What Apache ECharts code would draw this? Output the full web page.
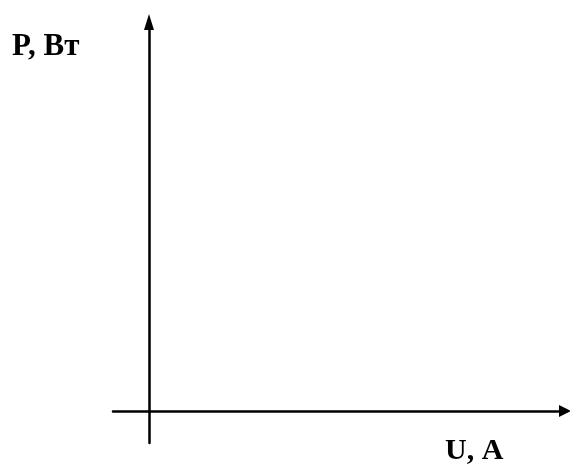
<!DOCTYPE html>
<html>
<head>
<meta charset="utf-8">
<script src="https://cdn.jsdelivr.net/npm/echarts@6/dist/echarts.min.js"></script>
<style>html,body{margin:0;padding:0;background:#fff}#c{width:570px;height:467px}</style>
</head>
<body>
<div id="c"></div>
<script>
// Empty coordinate system: axes only, no data
var xRange = [-36, 416];
var yRange = [-32, 389];
var yTitle = 'P, Вт';
var xTitle = 'U, A';
var seriesData = [];

var chart = echarts.init(document.getElementById('c'), null, {renderer: 'canvas'});
var axisLineStyle = {color: '#000', width: 2.5};
var titleStyle = {fontFamily: 'Liberation Serif', fontWeight: 'bold', fontSize: 30, fill: '#000'};
chart.setOption({
  backgroundColor: '#fff',
  animation: false,
  grid: {left: 113, right: 5, top: 22, bottom: 24},
  xAxis: {
    type: 'value', min: xRange[0], max: xRange[1],
    axisLine: {show: true, onZero: true, symbol: ['none', 'triangle'], symbolSize: [12, 12], lineStyle: axisLineStyle},
    axisTick: {show: false}, axisLabel: {show: false}, splitLine: {show: false}
  },
  yAxis: {
    type: 'value', min: yRange[0], max: yRange[1],
    axisLine: {show: true, onZero: true, symbol: ['none', 'triangle'], symbolSize: [10, 16], lineStyle: axisLineStyle},
    axisTick: {show: false}, axisLabel: {show: false}, splitLine: {show: false}
  },
  series: [{type: 'line', data: seriesData}],
  graphic: [
    {type: 'text', left: 12, top: 31, style: Object.assign({text: yTitle}, titleStyle, {fontSize: 31})},
    {type: 'text', left: 445, top: 436, style: Object.assign({text: xTitle}, titleStyle)}
  ]
});
</script>
</body>
</html>
